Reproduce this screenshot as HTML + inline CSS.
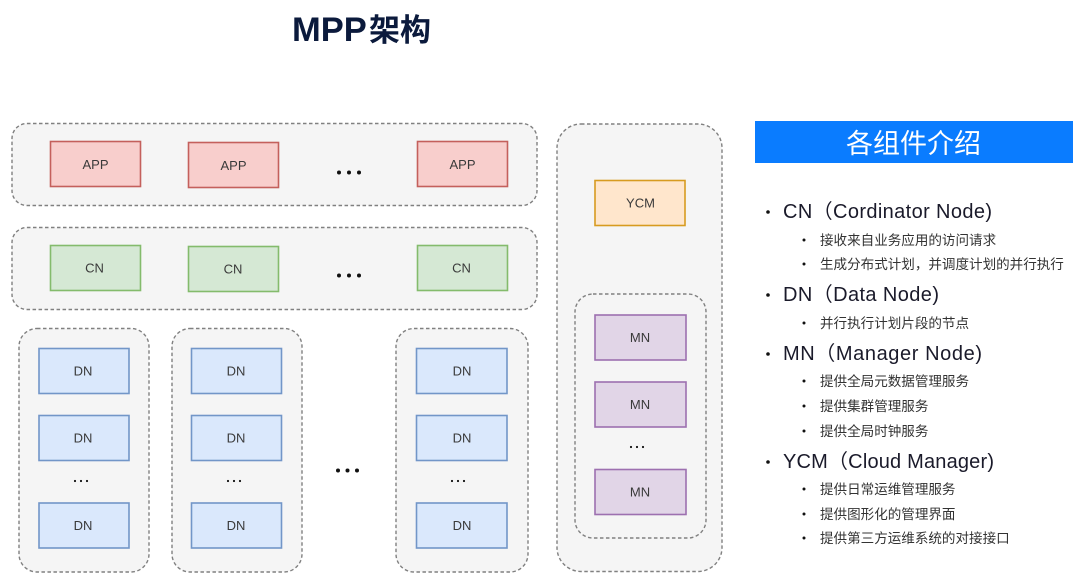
<!DOCTYPE html>
<html><head><meta charset="utf-8"><style>
html,body{margin:0;padding:0;background:#fff;width:1080px;height:585px;overflow:hidden}
svg{display:block}
text{font-family:"Liberation Sans","Noto Sans CJK SC",sans-serif}
.c{fill:#f5f5f5;stroke:#808080;stroke-width:1.4;stroke-dasharray:3.500 2.500}
.n{font-size:13px;fill:#3a3a3a;text-anchor:middle}
.r{fill:#f8cecc;stroke:#c4605c;stroke-width:1.600}
.g{fill:#d5e8d4;stroke:#84bb6c;stroke-width:1.600}
.b{fill:#dae8fc;stroke:#7296c8;stroke-width:1.600}
.p{fill:#e1d5e7;stroke:#9d70b0;stroke-width:1.600}
.o{fill:#ffe6cc;stroke:#d79b20;stroke-width:1.600}
.h{font-size:20px;fill:#1a1a2a}
.s{font-size:13.550px;fill:#333}
.d{fill:#111}
</style></head><body>
<svg width="1080" height="585" viewBox="0 0 1080 585" xmlns="http://www.w3.org/2000/svg">
<text x="292" y="41" font-size="34.500" font-weight="700" fill="#0b1a3c">MPP<tspan x="369" font-size="31">架构</tspan></text>

<rect class="c" x="12" y="123.500" width="525" height="82" rx="15"/>
<rect class="c" x="12" y="227.500" width="525" height="82" rx="15"/>
<rect class="c" x="19" y="328.500" width="130" height="243.500" rx="18"/>
<rect class="c" x="172" y="328.500" width="130" height="243.500" rx="18"/>
<rect class="c" x="396" y="328.500" width="132" height="243.500" rx="18"/>
<rect class="c" x="557" y="124" width="165" height="447.500" rx="24"/>
<rect class="c" x="575" y="294" width="131" height="244" rx="18"/>

<rect class="r" x="50.500" y="141.500" width="90" height="45"/><text class="n" x="95.500" y="169">APP</text>
<rect class="r" x="188.500" y="142.500" width="90" height="45"/><text class="n" x="233.500" y="170">APP</text>
<rect class="r" x="417.500" y="141.500" width="90" height="45"/><text class="n" x="462.500" y="169">APP</text>

<rect class="g" x="50.500" y="245.500" width="90" height="45"/><text class="n" x="94.500" y="272.500">CN</text>
<rect class="g" x="188.500" y="246.500" width="90" height="45"/><text class="n" x="233" y="273.500">CN</text>
<rect class="g" x="417.500" y="245.500" width="90" height="45"/><text class="n" x="461.500" y="272.500">CN</text>

<rect class="b" x="39" y="348.500" width="90" height="45"/><text class="n" x="83" y="375.500">DN</text>
<rect class="b" x="39" y="415.500" width="90" height="45"/><text class="n" x="83" y="442.500">DN</text>
<rect class="b" x="39" y="503" width="90" height="45"/><text class="n" x="83" y="530">DN</text>
<rect class="b" x="191.500" y="348.500" width="90" height="45"/><text class="n" x="236" y="375.500">DN</text>
<rect class="b" x="191.500" y="415.500" width="90" height="45"/><text class="n" x="236" y="442.500">DN</text>
<rect class="b" x="191.500" y="503" width="90" height="45"/><text class="n" x="236" y="530">DN</text>
<rect class="b" x="416.500" y="348.500" width="90.500" height="45"/><text class="n" x="462" y="375.500">DN</text>
<rect class="b" x="416.500" y="415.500" width="90.500" height="45"/><text class="n" x="462" y="442.500">DN</text>
<rect class="b" x="416.500" y="503" width="90.500" height="45"/><text class="n" x="462" y="530">DN</text>

<rect class="o" x="595" y="180.500" width="90" height="45"/><text class="n" x="640.500" y="207.500">YCM</text>
<rect class="p" x="595" y="315" width="91" height="45"/><text class="n" x="640" y="342">MN</text>
<rect class="p" x="595" y="382" width="91" height="45"/><text class="n" x="640" y="409">MN</text>
<rect class="p" x="595" y="469.500" width="91" height="45"/><text class="n" x="640" y="496.500">MN</text>

<g class="d">
<circle cx="339" cy="172.500" r="2"/><circle cx="349" cy="172.500" r="2"/><circle cx="359" cy="172.500" r="2"/>
<circle cx="339" cy="275.500" r="2"/><circle cx="349" cy="275.500" r="2"/><circle cx="359" cy="275.500" r="2"/>
<circle cx="338" cy="470.500" r="2"/><circle cx="347.500" cy="470.500" r="2"/><circle cx="357" cy="470.500" r="2"/>
<circle cx="75" cy="481" r="1.100"/><circle cx="81" cy="481" r="1.100"/><circle cx="87" cy="481" r="1.100"/>
<circle cx="228" cy="481" r="1.100"/><circle cx="234" cy="481" r="1.100"/><circle cx="240" cy="481" r="1.100"/>
<circle cx="452" cy="481" r="1.100"/><circle cx="458" cy="481" r="1.100"/><circle cx="464" cy="481" r="1.100"/>
<circle cx="631" cy="447" r="1.100"/><circle cx="637" cy="447" r="1.100"/><circle cx="643" cy="447" r="1.100"/>
</g>

<rect x="755" y="121" width="318" height="42" fill="#0a7cff"/>
<text x="913.500" y="153" font-size="27" fill="#fff" text-anchor="middle">各组件介绍</text>

<g class="d">
<circle cx="768" cy="212" r="1.800"/><circle cx="768" cy="295" r="1.800"/><circle cx="768" cy="354" r="1.800"/><circle cx="768" cy="462" r="1.800"/>
<circle cx="804" cy="240" r="1.500"/><circle cx="804" cy="264" r="1.500"/><circle cx="804" cy="323" r="1.500"/>
<circle cx="804" cy="381" r="1.500"/><circle cx="804" cy="406" r="1.500"/><circle cx="804" cy="431" r="1.500"/>
<circle cx="804" cy="489" r="1.500"/><circle cx="804" cy="514" r="1.500"/><circle cx="804" cy="538" r="1.500"/>
</g>
<text class="h" x="783" y="218" textLength="209">CN（Cordinator Node)</text>
<text class="s" x="820" y="245">接收来自业务应用的访问请求</text>
<text class="s" x="820" y="269">生成分布式计划，并调度计划的并行执行</text>
<text class="h" x="783" y="301" textLength="156">DN（Data Node)</text>
<text class="s" x="820" y="328">并行执行计划片段的节点</text>
<text class="h" x="783" y="360" textLength="199">MN（Manager Node)</text>
<text class="s" x="820" y="386">提供全局元数据管理服务</text>
<text class="s" x="820" y="411">提供集群管理服务</text>
<text class="s" x="820" y="436">提供全局时钟服务</text>
<text class="h" x="783" y="468" textLength="211">YCM（Cloud Manager)</text>
<text class="s" x="820" y="494">提供日常运维管理服务</text>
<text class="s" x="820" y="519">提供图形化的管理界面</text>
<text class="s" x="820" y="543">提供第三方运维系统的对接接口</text>
</svg>
</body></html>
